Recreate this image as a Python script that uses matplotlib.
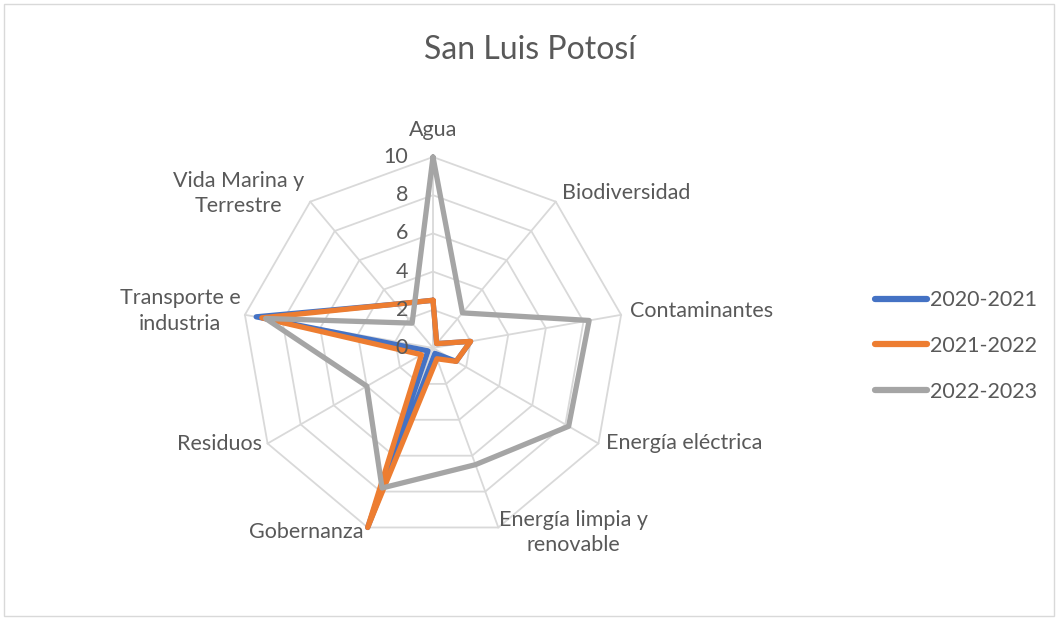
import numpy as np
import matplotlib
matplotlib.use("Agg")
import matplotlib.pyplot as plt
from matplotlib.patches import Rectangle

plt.rcParams['font.family'] = ['Lato', 'DejaVu Sans']

# --- data ---
categorias = ["Agua", "Biodiversidad", "Contaminantes", "Energía eléctrica",
              "Energía limpia y\nrenovable", "Gobernanza", "Residuos",
              "Transporte e\nindustria", "Vida Marina y\nTerrestre"]
serie_2020_2021 = [2.5, 0.3, 2.0, 1.4, 0.3, 10.0, 0.3, 9.4, 3.0]
serie_2021_2022 = [2.5, 0.3, 2.0, 1.4, 0.6, 10.0, 0.7, 9.1, 3.0]
serie_2022_2023 = [10.0, 2.4, 8.3, 8.2, 6.5, 7.8, 4.0, 8.9, 1.7]
etiquetas_series = ["2020-2021", "2021-2022", "2022-2023"]
colores = ["#4472C4", "#ED7D31", "#A5A5A5"]
ticks_radiales = [0, 2, 4, 6, 8, 10]

# label offsets in pixels from the tip of each spoke (layout only)
offsets = [(0, 27), (6, 9), (9, 4), (8, 0), (75, -5), (-4, -5), (-6, 0), (-65, 4), (-72, 8)]
alineacion = ["center", "left", "left", "left", "center", "right", "right", "center", "center"]

texto = "#595959"
grid_color = "#D9D9D9"
fs = 15.5

fig = plt.figure(figsize=(10.58, 6.2), dpi=100)
fig.patches.append(Rectangle((4 / 1058, 4 / 620), 1 - 8 / 1058, 1 - 8 / 620,
                             transform=fig.transFigure, fill=False,
                             edgecolor=grid_color, linewidth=1))

cx, cy, R = 433 / 1058, 1 - 348 / 620, 191
ax = fig.add_axes([cx - R / 1058, cy - R / 620, 2 * R / 1058, 2 * R / 620], polar=True)
ax.set_theta_zero_location("N")
ax.set_theta_direction(-1)
ax.set_ylim(0, 10)
ax.axis("off")

n = len(categorias)
ang = np.linspace(0, 2 * np.pi, n, endpoint=False)
ang_c = np.append(ang, ang[0])

# nonagon grid
for t in ticks_radiales[1:]:
    ax.plot(ang_c, [t] * (n + 1), color=grid_color, lw=1.3, zorder=1, clip_on=False)
for a in ang:
    ax.plot([a, a], [0, 10], color=grid_color, lw=1.3, zorder=1, clip_on=False)

for valores, lab, col in zip([serie_2020_2021, serie_2021_2022, serie_2022_2023],
                             etiquetas_series, colores):
    v = np.append(valores, valores[0])
    ax.plot(ang_c, v, color=col, lw=3.8, label=lab, solid_joinstyle="round",
            solid_capstyle="round", zorder=3, clip_on=False)

for t in ticks_radiales:
    ax.annotate(str(t), xy=(0, t), xytext=(-25, 0), textcoords="offset pixels",
                ha="right", va="center", fontsize=fs, color=texto)

for a, cat, off, ha in zip(ang, categorias, offsets, alineacion):
    ax.annotate(cat, xy=(a, 10), xytext=off, textcoords="offset pixels",
                ha=ha, va="center", fontsize=fs, color=texto,
                multialignment="center", linespacing=1.35)

fig.text(530 / 1058, 1 - 50 / 620, "San Luis Potosí", ha="center", va="center",
         fontsize=23, color=texto)

leg = fig.legend(loc="center left", bbox_to_anchor=(856 / 1058, 1 - 346 / 620),
                 frameon=False, fontsize=fs, handlelength=2.4, handletextpad=0.15,
                 labelspacing=1.2)
for h in leg.get_lines():
    h.set_linewidth(4.5)
    h.set_solid_capstyle("round")
for t in leg.get_texts():
    t.set_color(texto)

fig.savefig("out.png", dpi=100)
